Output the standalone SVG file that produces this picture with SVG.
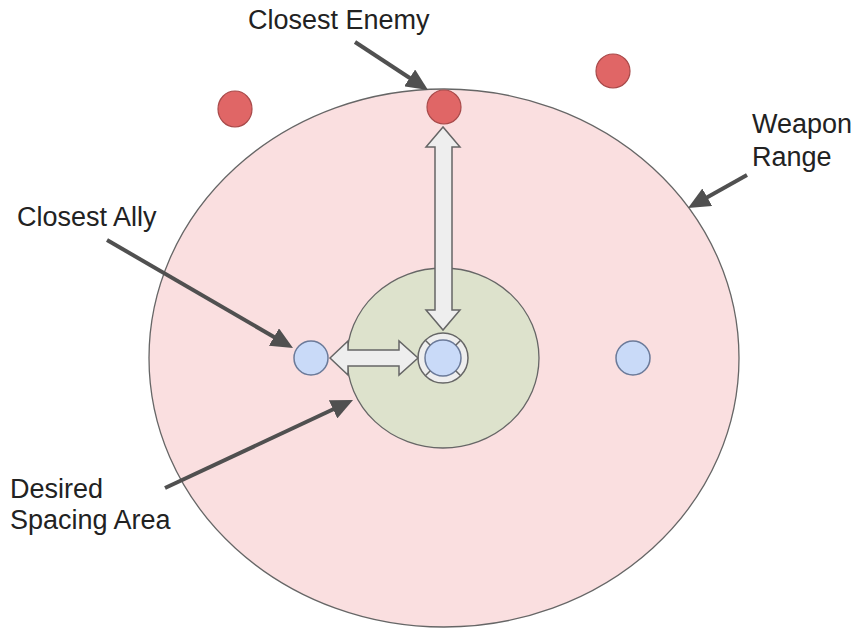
<svg xmlns="http://www.w3.org/2000/svg" width="858" height="630" viewBox="0 0 858 630">
<style>
.lbl{font-family:"Liberation Sans",Arial,sans-serif;font-size:27px;fill:#222}
.enemy{fill:#e06666;stroke:#a84a4a;stroke-width:1.2}
.ally{fill:#c9daf8;stroke:#6b7a99;stroke-width:1.5}
.bigarrow{fill:#eeeeee;stroke:#666;stroke-width:1.5;stroke-linejoin:miter}
.leader{stroke:#505050;stroke-width:4;fill:none}
</style>
<defs>
<marker id="ah" markerUnits="userSpaceOnUse" viewBox="0 0 22 20" refX="2" refY="10" markerWidth="22" markerHeight="20" orient="auto">
<path d="M0,0 L22,10 L0,20 z" fill="#505050"/>
</marker>
</defs>
<rect width="858" height="630" fill="#ffffff"/>
<g id="weapon-range"><ellipse cx="444" cy="358" rx="295" ry="269" fill="#fadfe0" stroke="#666" stroke-width="1.3"/></g>
<g id="spacing-area"><ellipse cx="443" cy="358" rx="96" ry="90" fill="#dde2cc" stroke="#666" stroke-width="1.3"/></g>
<g id="enemy-left"><ellipse class="enemy" cx="235" cy="109" rx="17" ry="18"/></g>
<g id="enemy-closest"><circle class="enemy" cx="444" cy="107" r="17"/></g>
<g id="enemy-right"><circle class="enemy" cx="613" cy="71" r="17"/></g>
<g id="ally-closest"><circle class="ally" cx="311" cy="358" r="17"/></g>
<g id="ally-right"><circle class="ally" cx="633" cy="358" r="17"/></g>
<g id="self">
<circle cx="443" cy="358" r="25" fill="#eeeeee" stroke="#666" stroke-width="1.5"/>
<circle class="ally" cx="443" cy="358" r="18"/>
<path d="M455.7,345.3 L460.7,340.3 M430.3,345.3 L425.3,340.3 M455.7,370.7 L460.7,375.7 M430.3,370.7 L425.3,375.7" stroke="#666" stroke-width="1.5"/>
</g>
<g id="connectors">
<polygon class="bigarrow" points="443,127 426,147 435,147 435,310 426,310 443,330 460,310 452,310 452,147 460,147"/>
<polygon class="bigarrow" points="330,358 348,341 348,350 399,350 399,341 418,358 399,375 399,366 348,366 348,375"/>
<line class="leader" x1="355" y1="42" x2="411.3" y2="79" marker-end="url(#ah)"/>
<line class="leader" x1="107" y1="240" x2="275.7" y2="338" marker-end="url(#ah)"/>
<line class="leader" x1="165" y1="488" x2="334.9" y2="408.5" marker-end="url(#ah)"/>
<line class="leader" x1="747" y1="175" x2="705.5" y2="198.2" marker-end="url(#ah)"/>
</g>
<g id="labels">
<text class="lbl" x="248" y="29">Closest Enemy</text>
<text class="lbl" x="17" y="226">Closest Ally</text>
<text class="lbl" x="752" y="133">Weapon</text>
<text class="lbl" x="752" y="166">Range</text>
<text class="lbl" x="10" y="498">Desired</text>
<text class="lbl" x="10" y="529">Spacing Area</text>
</g>
</svg>
